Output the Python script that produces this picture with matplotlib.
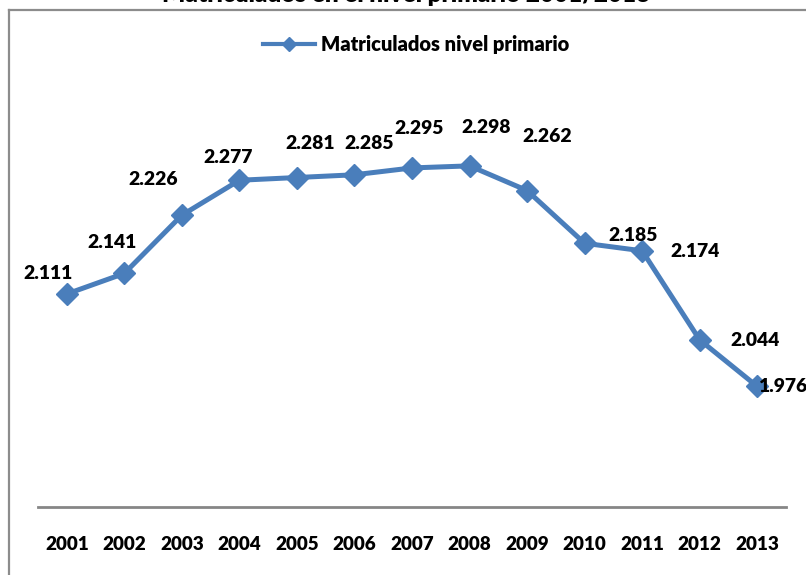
import matplotlib.pyplot as plt
from matplotlib.lines import Line2D

years = ["2001", "2002", "2003", "2004", "2005", "2006", "2007",
         "2008", "2009", "2010", "2011", "2012", "2013"]
matriculados = [2.111, 2.141, 2.226, 2.277, 2.281, 2.285, 2.295,
                2.298, 2.262, 2.185, 2.174, 2.044, 1.976]
labels = ["2.111", "2.141", "2.226", "2.277", "2.281", "2.285", "2.295",
          "2.298", "2.262", "2.185", "2.174", "2.044", "1.976"]

# label offsets in pixels (Excel placed them by hand)
label_dx = [-19, -12, -29, -11, 13, 15, 7, 17, 20, 48, 53, 55, 25]
label_dy = [20, 31, 36, 23, 34, 31, 39, 38, 54, 8, -1, -1, 0]

plt.rcParams['font.family'] = ['Lato', 'DejaVu Sans']

W, H = 806, 575
fig = plt.figure(figsize=(W / 100, H / 100), dpi=100)
ax = fig.add_axes([38 / W, (H - 507) / H, (786 - 38) / W, (507 - 96) / H])

blue = "#4A7EBB"
x = list(range(len(years)))
ax.plot(x, matriculados, color=blue, lw=3.6, marker="D", markersize=11,
        label="Matriculados nivel primario")

for i, v in enumerate(matriculados):
    ax.annotate(labels[i], (x[i], v), xytext=(label_dx[i], label_dy[i]),
                textcoords="offset pixels", ha="center", va="center",
                fontsize=13.9, fontweight="heavy", color="black")

ax.set_xlim(-0.5, len(years) - 0.5)
ax.set_ylim(1.8, 2.4)
ax.set_xticks(x)
ax.set_xticklabels(years, fontsize=13.6, fontweight="heavy")
ax.tick_params(axis="x", length=0, pad=21)
ax.set_yticks([])
for s in ["top", "right", "left"]:
    ax.spines[s].set_visible(False)
ax.spines["bottom"].set_color("#868686")
ax.spines["bottom"].set_linewidth(2)

leg = fig.legend(handles=[Line2D([], [], color=blue, lw=3, marker="D", markersize=7)],
                 labels=["Matriculados nivel primario"],
                 loc="center", bbox_to_anchor=(416 / W, (H - 45) / H),
                 frameon=False, prop={"size": 14.5, "weight": "heavy"},
                 handlelength=2.6, handletextpad=0.3)

# chart frame (left and top edges are the only ones inside the picture)
fig.add_artist(Line2D([8.5 / W, 8.5 / W], [0, (H - 10) / H], color="#8c8c8c", lw=1.6,
                      transform=fig.transFigure))
fig.add_artist(Line2D([8.5 / W, 1], [(H - 10) / H, (H - 10) / H], color="#8c8c8c", lw=1.6,
                      transform=fig.transFigure))

# title sits mostly above the top edge of the picture, as in the original
fig.text(406 / W, (H - 2) / H, "Matriculados en el nivel primario 2001/2013",
         ha="center", va="baseline", fontsize=17.5, fontweight="heavy")

fig.savefig("out.png", dpi=100)
